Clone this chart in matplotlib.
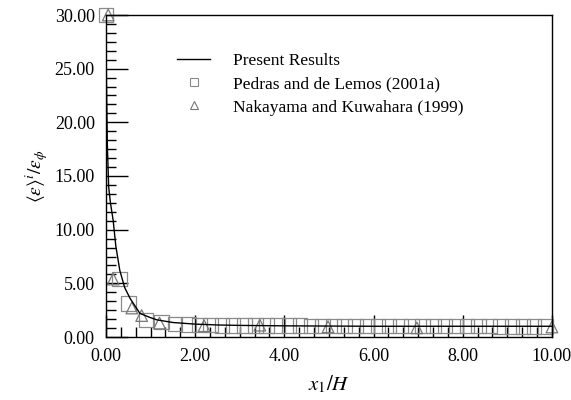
import matplotlib
matplotlib.use("Agg")
import matplotlib.pyplot as plt
from matplotlib.ticker import MultipleLocator, FormatStrFormatter
from matplotlib.lines import Line2D

plt.rcParams['font.family'] = ['Liberation Serif', 'DejaVu Serif']
plt.rcParams['mathtext.fontset'] = 'stix'

# Present Results (solid curve)
line_x = [0.0, 0.01, 0.03, 0.06, 0.10, 0.16, 0.22, 0.31, 0.42, 0.54, 0.76,
          1.0, 1.14, 1.5, 2.0, 2.5, 3.0, 4.0, 5.0, 6.0, 8.0, 10.0]
line_y = [30.0, 24.0, 18.0, 14.0, 12.5, 10.9, 8.5, 6.2, 4.6, 3.6, 2.2,
          1.8, 1.6, 1.35, 1.2, 1.12, 1.08, 1.04, 1.02, 1.0, 1.0, 1.0]

# Pedras and de Lemos (2001a)
ped_x = [0.0, 0.3, 0.5, 0.9, 1.25, 1.55, 1.85, 2.1, 2.35, 2.6, 2.85, 3.1,
         3.35, 3.6, 3.85, 4.1, 4.35, 4.6, 4.85, 5.1, 5.35, 5.6, 5.85, 6.1,
         6.35, 6.6, 6.85, 7.1, 7.35, 7.6, 7.85, 8.1, 8.35, 8.6, 8.85, 9.1,
         9.35, 9.6, 9.85]
ped_y = [30.0, 5.4, 3.1, 1.6, 1.4, 1.2, 1.15, 1.1, 1.1, 1.08, 1.08, 1.07,
         1.06, 1.06, 1.05, 1.05, 1.05, 1.04, 1.04, 1.04, 1.03, 1.03, 1.03, 1.03,
         1.02, 1.02, 1.02, 1.02, 1.02, 1.01, 1.01, 1.01, 1.01, 1.01, 1.0, 1.0,
         1.0, 1.0, 1.0]

# Nakayama and Kuwahara (1999)
nak_x = [0.05, 0.16, 0.58, 0.8, 1.2, 2.2, 3.45, 4.98, 6.97, 10.0]
nak_y = [30.0, 5.4, 2.7, 2.0, 1.3, 1.05, 1.1, 0.95, 0.85, 0.93]

fig = plt.figure(figsize=(5.71, 4.0), dpi=100)
ax = fig.add_axes([0.1856, 0.1575, 0.781, 0.805])

ax.plot(line_x, line_y, color='black', lw=1.0, zorder=3)
ax.scatter(ped_x, ped_y, marker='s', s=110, facecolors='none',
           edgecolors='#8a8a8a', linewidths=0.9, clip_on=False, zorder=2)
ax.scatter(nak_x, nak_y, marker='^', s=70, facecolors='none',
           edgecolors='#777777', linewidths=0.9, clip_on=False, zorder=2)

ax.set_xlim(0, 10)
ax.set_ylim(0, 30)
ax.xaxis.set_major_locator(MultipleLocator(2))
ax.xaxis.set_minor_locator(MultipleLocator(2 / 6))
ax.yaxis.set_major_locator(MultipleLocator(5))
ax.yaxis.set_minor_locator(MultipleLocator(5 / 6))
ax.xaxis.set_major_formatter(FormatStrFormatter('%.2f'))
ax.yaxis.set_major_formatter(FormatStrFormatter('%.2f'))
ax.tick_params(which='both', direction='in', top=False, right=False,
               labelsize=13, width=1.0, colors='black')
ax.tick_params(which='major', length=16, pad=8)
ax.tick_params(which='minor', length=7.5)
for sp in ax.spines.values():
    sp.set_linewidth(1.0)

ax.set_xlabel(r'$x_1/H$', fontsize=15)
ax.set_ylabel(r'$\langle\varepsilon\rangle^i/\varepsilon_\phi$', fontsize=14)
ax.xaxis.set_label_coords(0.5, -0.115)
ax.yaxis.set_label_coords(-0.125, 0.5)

handles = [
    Line2D([], [], color='black', lw=1.0),
    Line2D([], [], marker='s', ls='none', mfc='none', mec='#8a8a8a', ms=6, mew=0.8),
    Line2D([], [], marker='^', ls='none', mfc='none', mec='#777777', ms=6, mew=0.8),
]
labels = ['Present Results', 'Pedras and de Lemos (2001a)', 'Nakayama and Kuwahara (1999)']
ax.legend(handles, labels, loc='upper left', bbox_to_anchor=(0.125, 0.93),
          frameon=False, fontsize=12.5, handlelength=1.9, handletextpad=1.3,
          labelspacing=0.4)

fig.savefig('out.png', dpi=100)
